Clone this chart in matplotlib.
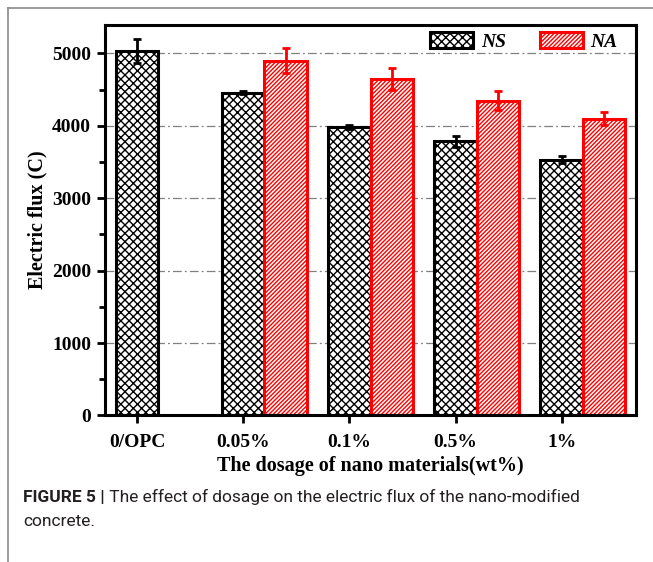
import matplotlib
matplotlib.use("Agg")
import matplotlib.pyplot as plt
from matplotlib.lines import Line2D
import numpy as np

# Electric flux data (C)
categories = ["0/OPC", "0.05%", "0.1%", "0.5%", "1%"]
ns_values = [5035, 4455, 3980, 3785, 3535]
ns_errors = [170, 20, 30, 72, 50]
na_values = [4900, 4650, 4350, 4100]
na_errors = [175, 148, 130, 86]
series_names = ["NS", "NA"]

plt.rcParams["hatch.linewidth"] = 1.0
serif = ["Liberation Serif", "DejaVu Serif"]

fig = plt.figure(figsize=(6.53, 5.62), dpi=100)
ax = fig.add_axes([0.161, 0.2607, 0.813, 0.6957])

x = np.arange(len(categories))
w = 0.4

ax.bar(x, ns_values, width=w, color="white", edgecolor="black",
       hatch="xxxx", linewidth=2.2, zorder=2, label=series_names[0])
ax.errorbar(x, ns_values, yerr=ns_errors, fmt="none", ecolor="black",
            elinewidth=2.0, capsize=3, capthick=2.0, zorder=3)

xa = x[1:] + w
ax.bar(xa, na_values, width=w, color="white", edgecolor="red",
       hatch="////////", linewidth=2.2, zorder=2, label=series_names[1])
ax.errorbar(xa, na_values, yerr=na_errors, fmt="none", ecolor="red",
            elinewidth=2.0, capsize=3, capthick=2.0, zorder=3)

ax.set_xlim(-0.3, 4.7)
ax.set_ylim(0, 5400)
ax.set_yticks(np.arange(0, 5001, 1000))
ax.set_yticks(np.arange(500, 5001, 1000), minor=True)
ax.set_xticks(x)
ax.set_xticklabels(categories)

ax.grid(axis="y", which="major", color="#808080", linewidth=0.9,
        linestyle=(0, (7, 2.5, 1.5, 2.5)), zorder=0)
ax.set_axisbelow(True)

for s in ax.spines.values():
    s.set_linewidth(2.2)

ax.tick_params(axis="both", which="major", direction="out", length=6,
               width=2.0, pad=4)
ax.tick_params(axis="x", which="major", pad=7)
ax.tick_params(axis="y", which="minor", direction="out", length=4, width=2.0)
ax.tick_params(axis="x", which="minor", bottom=False)

for lab in ax.get_xticklabels() + ax.get_yticklabels():
    lab.set_family(serif)
    lab.set_fontweight("bold")
    lab.set_fontsize(14)

ax.set_xlabel("The dosage of nano materials(wt%)", family=serif,
              fontweight="bold", fontsize=14.5, labelpad=4)
ax.set_ylabel("Electric flux (C)", family=serif, fontweight="bold",
              fontsize=14.5, labelpad=3)

leg = ax.legend(loc="center", bbox_to_anchor=(0.789, 0.957), ncol=2,
                frameon=False, handlelength=2.2, handleheight=0.9,
                handletextpad=0.4, columnspacing=1.75,
                prop={"family": serif, "weight": "bold", "style": "italic",
                      "size": 14})

# Panel border (top and left edges)
fig.add_artist(Line2D([8 / 653, 1.0], [1 - 8 / 562, 1 - 8 / 562],
                      transform=fig.transFigure, color="#8a8a8a", lw=1.2))
fig.add_artist(Line2D([8 / 653, 8 / 653], [0.0, 1 - 8 / 562],
                      transform=fig.transFigure, color="#8a8a8a", lw=1.2))

# Caption
cap_color = "#231f20"
cap_font = ["Roboto", "DejaVu Sans"]
t1 = fig.text(23 / 653, 1 - 497 / 562, "FIGURE 5 |", family=cap_font,
              fontweight="bold", fontsize=12.5, color=cap_color, va="center")
ax.annotate(" The effect of dosage on the electric flux of the nano-modified",
            xy=(1, 0.5), xycoords=t1, va="center", ha="left",
            family=cap_font, fontsize=12.5, color=cap_color,
            annotation_clip=False)
fig.text(23 / 653, 1 - 522 / 562, "concrete.", family=cap_font,
         fontsize=12.5, color=cap_color, va="center")

fig.savefig("out.png", dpi=100)
